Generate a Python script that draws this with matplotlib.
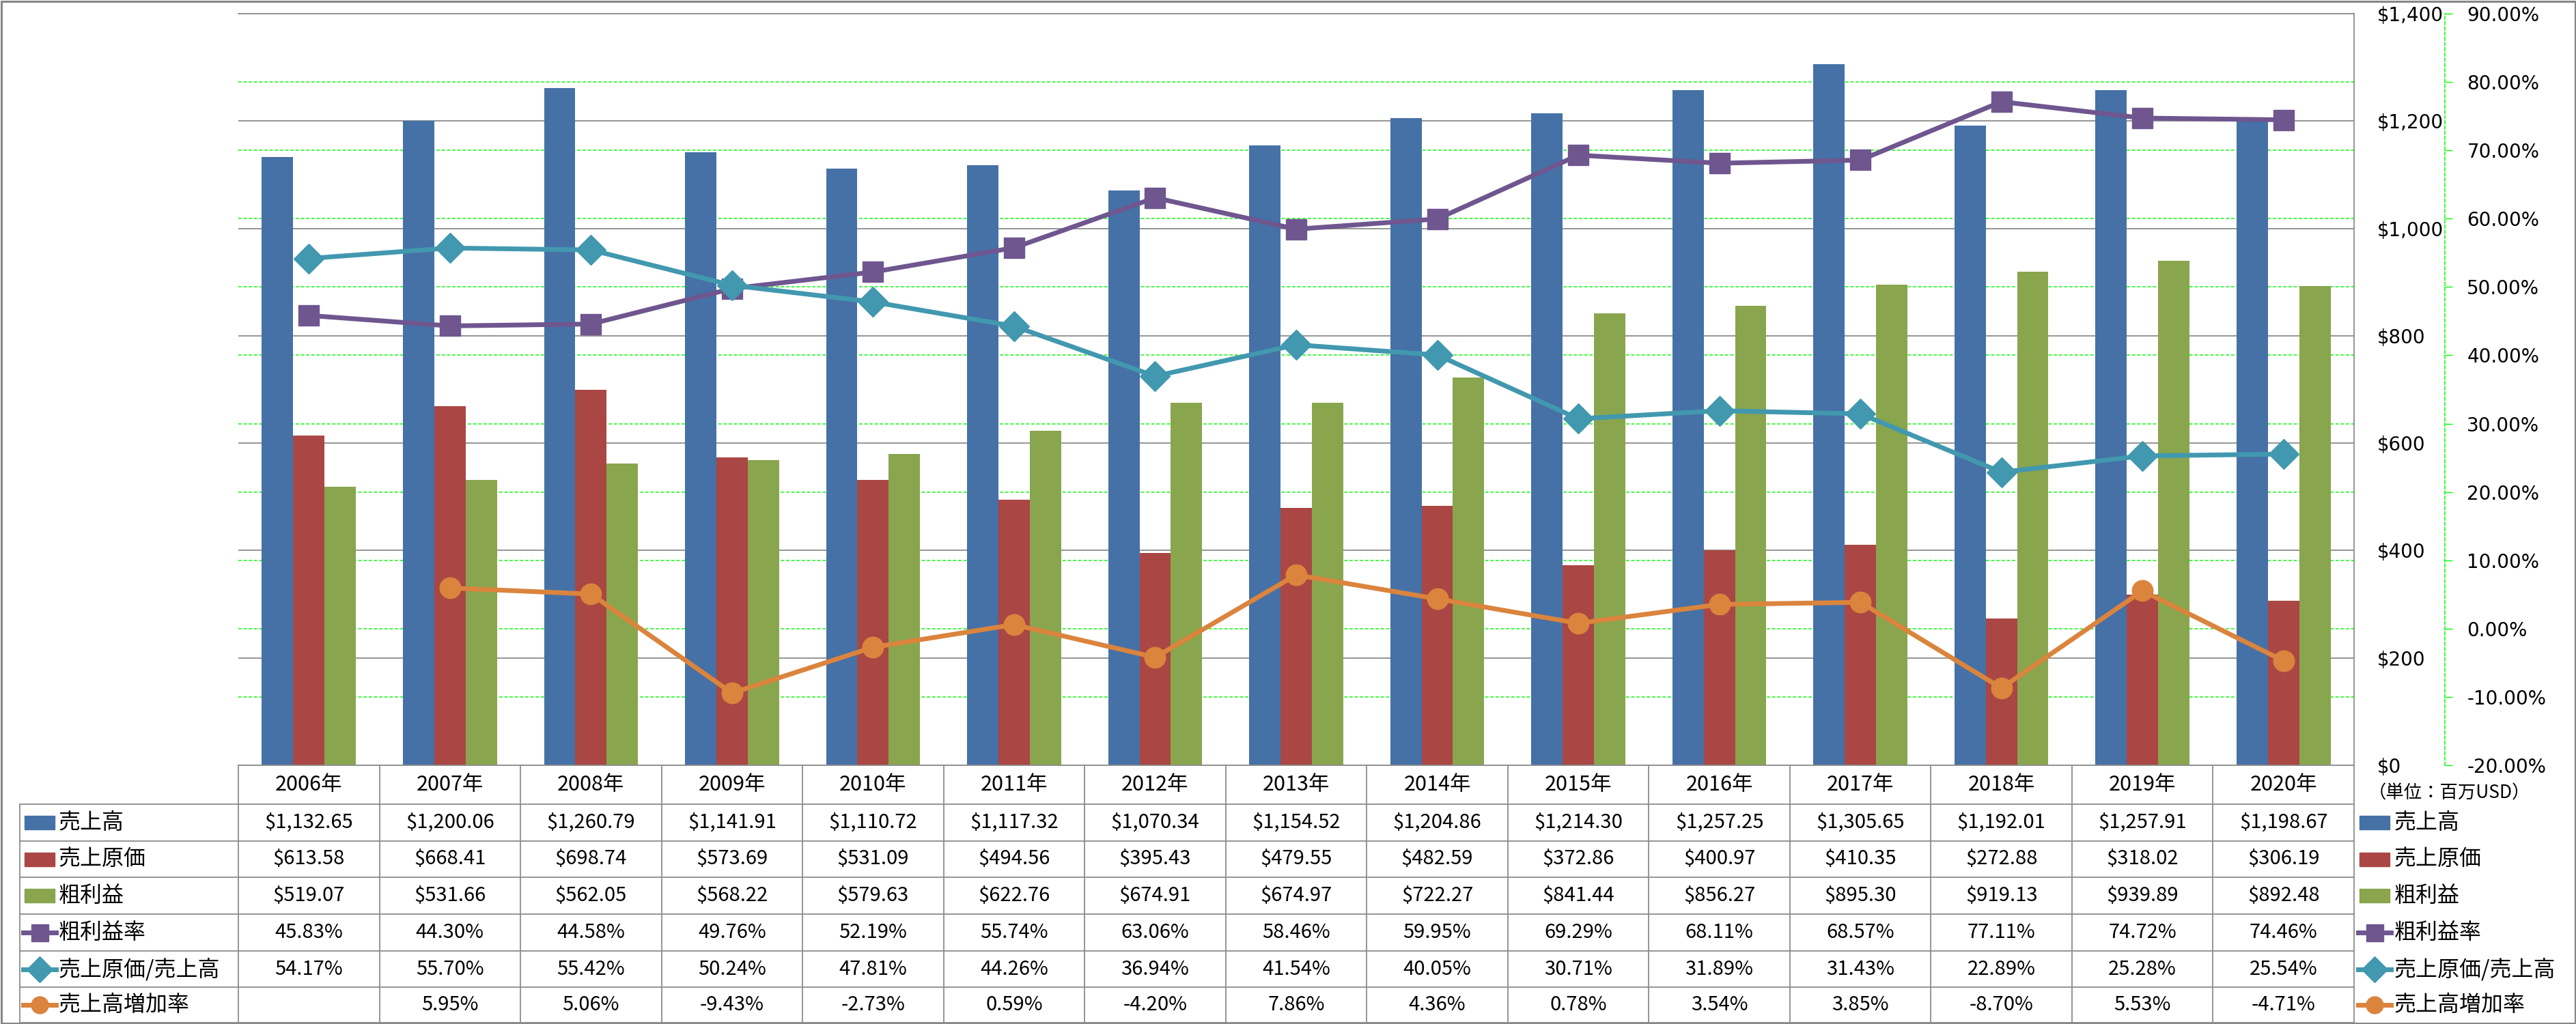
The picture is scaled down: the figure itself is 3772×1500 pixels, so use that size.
import numpy as np
import matplotlib
matplotlib.use('Agg')
import matplotlib.pyplot as plt
from matplotlib.lines import Line2D
from matplotlib.patches import Rectangle
import matplotlib.transforms as mtransforms
from matplotlib.ticker import FuncFormatter

plt.rcParams['font.family'] = ['Noto Sans CJK JP', 'DejaVu Sans']

# ---------------- data ----------------
years = ["2006年", "2007年", "2008年", "2009年", "2010年", "2011年", "2012年", "2013年",
         "2014年", "2015年", "2016年", "2017年", "2018年", "2019年", "2020年"]
sales = [1132.65, 1200.06, 1260.79, 1141.91, 1110.72, 1117.32, 1070.34, 1154.52,
         1204.86, 1214.30, 1257.25, 1305.65, 1192.01, 1257.91, 1198.67]
cost = [613.58, 668.41, 698.74, 573.69, 531.09, 494.56, 395.43, 479.55,
        482.59, 372.86, 400.97, 410.35, 272.88, 318.02, 306.19]
gross = [519.07, 531.66, 562.05, 568.22, 579.63, 622.76, 674.91, 674.97,
         722.27, 841.44, 856.27, 895.30, 919.13, 939.89, 892.48]
gross_margin = [45.83, 44.30, 44.58, 49.76, 52.19, 55.74, 63.06, 58.46,
                59.95, 69.29, 68.11, 68.57, 77.11, 74.72, 74.46]
cost_ratio = [54.17, 55.70, 55.42, 50.24, 47.81, 44.26, 36.94, 41.54,
              40.05, 30.71, 31.89, 31.43, 22.89, 25.28, 25.54]
growth = [None, 5.95, 5.06, -9.43, -2.73, 0.59, -4.20, 7.86,
          4.36, 0.78, 3.54, 3.85, -8.70, 5.53, -4.71]
series_names = ["売上高", "売上原価", "粗利益", "粗利益率", "売上原価/売上高", "売上高増加率"]
money_ticks = [0, 200, 400, 600, 800, 1000, 1200, 1400]
pct_ticks = [-20, -10, 0, 10, 20, 30, 40, 50, 60, 70, 80, 90]
unit_label = "（単位：百万USD）"

C_BLUE, C_RED, C_GREEN = '#4571A6', '#AA4643', '#89A54E'
C_PURPLE, C_TEAL, C_ORANGE = '#6F568F', '#4198AF', '#DB843D'
GRID_GRAY = '#8C8C8C'
LIME = '#00FF00'

# ---------------- figure ----------------
W, H = 3773, 1500
fig = plt.figure(figsize=(W / 100, H / 100), dpi=100)


def fx(px):
    return px / W


def fy(py):
    return 1 - py / H


L, R, T, B = 349, 3447, 20, 1121
n = len(years)
x = np.arange(n)

axA = fig.add_axes([fx(L), fy(B), fx(R - L), (B - T) / H])
axB = axA.twinx()
axC = axA.twinx()

# percent axis (green grid, right outer axis)
axA.set_xlim(-0.5, n - 0.5)
axA.set_ylim(-20, 90)
axA.set_xticks([])
axA.set_yticks(pct_ticks)
axA.set_yticklabels([f"{v:.2f}%" for v in pct_ticks])
axA.yaxis.tick_right()
for v, lab in zip(pct_ticks, axA.get_yticklabels()):
    lab.set_color('#FF0000' if v < 0 else 'black')
axA.tick_params(axis='y', which='both', left=False, labelleft=False, right=True, labelright=True,
                direction='out', length=8, width=1, color=LIME, pad=15,
                labelsize=20, labelfontfamily='DejaVu Sans')
axA.grid(axis='y', color=LIME, linestyle=(0, (3, 2)), linewidth=1.1)
for s in ['left', 'top', 'bottom']:
    axA.spines[s].set_visible(False)
axA.spines['right'].set_position(('outward', 96))
axA.spines['right'].set_color(LIME)
axA.spines['right'].set_linestyle((0, (3, 2)))
axA.spines['right'].set_linewidth(1.1)
axA.patch.set_visible(False)

# money axis (bars)
axB.set_ylim(0, 1400)
axB.set_yticks(money_ticks)
axB.yaxis.set_major_formatter(FuncFormatter(lambda v, _: f"${v:,.0f}"))
axB.tick_params(axis='y', length=0, pad=24, labelsize=20, labelfontfamily='DejaVu Sans')
axB.set_axisbelow(True)
axB.grid(axis='y', color=GRID_GRAY, linewidth=1.3)
for s in ['left', 'bottom']:
    axB.spines[s].set_visible(False)
for s in ['right', 'top']:
    axB.spines[s].set_color(GRID_GRAY)
    axB.spines[s].set_linewidth(1.3)
bw = 0.222
axB.bar(x - bw, sales, bw, color=C_BLUE, zorder=2)
axB.bar(x, cost, bw, color=C_RED, zorder=2)
axB.bar(x + bw, gross, bw, color=C_GREEN, zorder=2)

# lines axis
axC.set_ylim(-20, 90)
axC.axis('off')
growth_arr = np.array([np.nan if v is None else v for v in growth])
axC.plot(x, gross_margin, color=C_PURPLE, lw=5, marker='s', ms=22, mfc=C_PURPLE,
         mec=C_PURPLE, solid_joinstyle='round')
axC.plot(x, cost_ratio, color=C_TEAL, lw=5, marker='D', ms=22, mfc=C_TEAL, mec=C_TEAL)
axC.plot(x, growth_arr, color=C_ORANGE, lw=5, marker='o', ms=22, mfc=C_ORANGE, mec=C_ORANGE)

# ---------------- data table ----------------
tr = mtransforms.blended_transform_factory(axA.transData, fig.transFigure)
LINE_KW = dict(color=GRID_GRAY, lw=1.3)
row_edges = [1178, 1232, 1285, 1339, 1393, 1446, 1498]
header_top = B

fig.add_artist(Line2D([-0.5, n - 0.5], [fy(header_top)] * 2, transform=tr, **LINE_KW))
for ry in row_edges:
    fig.add_artist(Line2D([fx(29), fx(R)], [fy(ry)] * 2, transform=fig.transFigure, **LINE_KW))
for k in range(n + 1):
    fig.add_artist(Line2D([k - 0.5, k - 0.5], [fy(header_top), fy(1498)], transform=tr, **LINE_KW))
fig.add_artist(Line2D([fx(29), fx(29)], [fy(1178), fy(1498)], transform=fig.transFigure, **LINE_KW))

hy = (header_top + 1178) / 2
for i, yl in enumerate(years):
    fig.text(i, fy(hy), yl, transform=tr, ha='center', va='center', fontsize=22)

row_values = [
    [f"${v:,.2f}" for v in sales],
    [f"${v:,.2f}" for v in cost],
    [f"${v:,.2f}" for v in gross],
    [f"{v:.2f}%" for v in gross_margin],
    [f"{v:.2f}%" for v in cost_ratio],
    ["" if v is None else f"{v:.2f}%" for v in growth],
]
row_centers = [(row_edges[j] + row_edges[j + 1]) / 2 for j in range(6)]
for j, vals in enumerate(row_values):
    for i, s in enumerate(vals):
        if s:
            fig.text(i, fy(row_centers[j]), s, transform=tr, ha='center', va='center', fontsize=21)

kinds = [('bar', C_BLUE), ('bar', C_RED), ('bar', C_GREEN),
         ('line', C_PURPLE, 's'), ('line', C_TEAL, 'D'), ('line', C_ORANGE, 'o')]


def legend_key(x0, yc, kind):
    if kind[0] == 'bar':
        fig.add_artist(Rectangle((fx(x0), fy(yc + 10)), fx(44), 20 / H,
                                 transform=fig.transFigure, color=kind[1]))
    else:
        fig.add_artist(Line2D([fx(x0 - 2), fx(x0 + 46)], [fy(yc)] * 2, transform=fig.transFigure,
                              color=kind[1], lw=5))
        fig.add_artist(Line2D([fx(x0 + 22)], [fy(yc)], transform=fig.transFigure,
                              color=kind[1], marker=kind[2], ms=18 if kind[2] != 'D' else 19,
                              mfc=kind[1], mec=kind[1], lw=0))


for j in range(6):
    yc = row_centers[j]
    legend_key(36, yc, kinds[j])
    fig.text(fx(86), fy(yc), series_names[j], ha='left', va='center', fontsize=23)
    legend_key(3455, yc, kinds[j])
    fig.text(fx(3506), fy(yc), series_names[j], ha='left', va='center', fontsize=23)

fig.text(fx(3468), fy(1162), unit_label, ha='left', va='center', fontsize=19)

# outer border
fig.add_artist(Rectangle((0.0005, 0.001), 0.999, 0.998, transform=fig.transFigure,
                         fill=False, edgecolor='#878787', lw=2.2))

fig.savefig('out.png', dpi=100, facecolor='white')
